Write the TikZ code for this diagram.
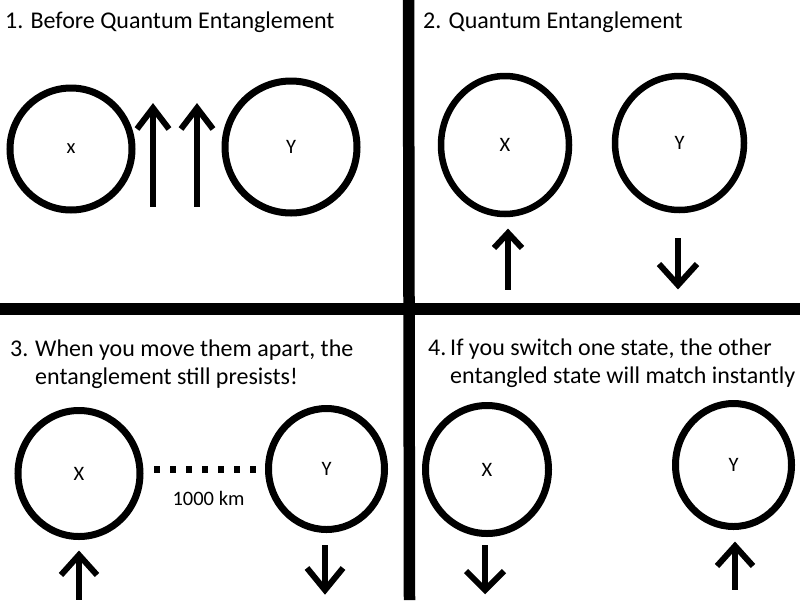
\documentclass[tikz,border=0pt]{standalone}
\usepackage{fontspec}
\setmainfont{Carlito}
\usetikzlibrary{shapes.geometric}
\tikzset{
  ttl/.style={anchor=base west, inner sep=0pt, font=\fontsize{24}{28}\selectfont},
  particle/.style={draw, ellipse, inner sep=0pt, line width=7pt, font=\fontsize{20.5}{24}\selectfont},
  spin/.style={line width=6pt, miter limit=10, line join=miter},
  divider/.style={line width=11.5pt},
  link/.style={line width=7pt, dash pattern=on 6pt off 10pt},
  dist/.style={font=\fontsize{20.5}{24}\selectfont, inner sep=0pt}
}
\newcommand{\spinup}[5]{% x, tip, bottom, dx, dy
  \draw[spin] (#1-#4,#2+#5) -- (#1,#2) -- (#1+#4,#2+#5);
  \draw[spin] (#1,#2) -- (#1,#3);}
\newcommand{\spindown}[5]{% x, top, tip, dx, dy
  \draw[spin] (#1-#4,#3-#5) -- (#1,#3) -- (#1+#4,#3-#5);
  \draw[spin] (#1,#2) -- (#1,#3);}
\begin{document}
\begin{tikzpicture}[x=1pt,y=-1pt]
\useasboundingbox (0,0) rectangle (800,600);
\fill[white] (0,0) rectangle (800,600);
% dividers
\draw[divider] (408.5,0) coordinate (vt) -- (409.5,600) coordinate (vb);
\draw[divider] (0,309) coordinate (hl) -- (800,309) coordinate (hr);
% panel 1
\node[ttl] (t1) at (5,28) {1. Before Quantum Entanglement};
\node[particle, minimum width=122pt, minimum height=122pt] (x1) at (71,149) {x};
\node[particle, minimum width=132pt, minimum height=132pt] (y1) at (291,147) {Y};
\spinup{153}{108}{207}{16}{21}
\spinup{197}{108}{207}{16}{21}
% panel 2
\node[ttl] (t2) at (423,28) {2. Quantum Entanglement};
\node[particle, line width=6.5pt, minimum width=128pt, minimum height=138pt] (x2) at (505,145) {X};
\node[particle, line width=6.5pt, minimum width=129pt, minimum height=134pt] (y2) at (679.5,143) {Y};
\spinup{508}{233}{290}{14}{15}
\spindown{678}{238}{285}{19}{21}
% panel 3
\node[ttl] (n3) at (10,356) {3.};
\node[ttl] (t3a) at (35,356) {When you move them apart, the};
\node[ttl] (t3b) at (35,384) {entanglement still presists!};
\node[particle, minimum width=122pt, minimum height=126pt] (x3) at (79,473.5) {X};
\node[particle, minimum width=116pt, minimum height=121pt] (y3) at (326.5,469) {Y};
\coordinate (d3a) at (154,469);
\coordinate (d3b) at (256,469);
\draw[link] (d3a) -- (d3b);
\node[dist, anchor=base] (km) at (208.5,505) {1000 km};
\spinup{79}{555}{600}{18}{20}
\spindown{325}{545}{590}{18}{22}
% panel 4
\node[ttl] (n4) at (428,355) {4.};
\node[ttl] (t4a) at (450,355) {If you switch one state, the other};
\node[ttl] (t4b) at (450,383) {entangled state will match instantly};
\node[particle, minimum width=123pt, minimum height=128pt] (x4) at (487,469.5) {X};
\node[particle, minimum width=116pt, minimum height=123pt] (y4) at (733.5,465) {Y};
\spindown{485}{545}{590}{19}{19}
\spinup{735}{546}{590}{18}{20}
\end{tikzpicture}
\end{document}
